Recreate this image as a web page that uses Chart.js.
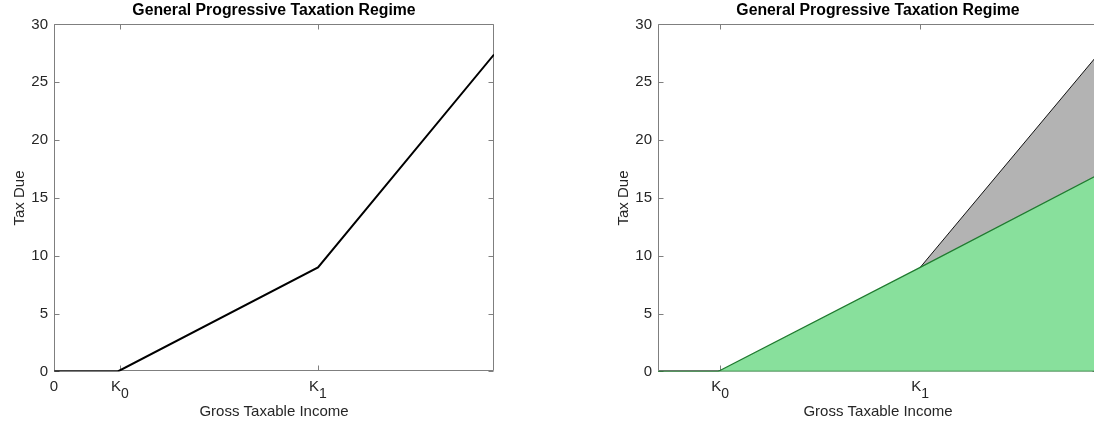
<!DOCTYPE html>
<html>
<head>
<meta charset="utf-8">
<script src="https://cdn.jsdelivr.net/npm/chart.js@4.4.0/dist/chart.umd.min.js"></script>
<style>
  html, body { margin: 0; padding: 0; background: #fff; overflow: hidden; width: 1094px; height: 421px; }
  canvas { position: absolute; top: 0; }
  #leftChart { left: 0; }
  #rightChart { left: 547px; }
</style>
</head>
<body>
<canvas id="leftChart" width="547" height="421"></canvas>
<canvas id="rightChart" width="560" height="421"></canvas>
<script>
//data

const chartTitle = 'General Progressive Taxation Regime';
const xTitle = 'Gross Taxable Income';
const yTitle = 'Tax Due';
const incomeLevels = [0, 0.145, 0.6, 1.0];
const taxDue = [0, 0, 9, 27.4];          // left: the progressive schedule
const baseTax = [0, 0, 9, 17.0];         // right: green part (first rate carried on)
const extraTax = [null, null, 9, 27.4];  // right: gray part above K1
const zeroLine = [0, 0, 0, 0];
const yTicks = [0, 5, 10, 15, 20, 25, 30];
const xTickValues = [0, 0.15, 0.6];
const xTickText = ['0', 'K', 'K'];
const xTickSubs = ['', '0', '1'];

const FONT = '"Liberation Sans", Arial, Helvetica, sans-serif';
const TEXT = '#262626';
const AXIS = '#7f7f7f';

function points(ys) {
  return incomeLevels.map((x, i) => ({x: x, y: ys[i]}));
}

// box, inward ticks and K-subscript labels, matlab style
const matlabAxes = {
  id: 'matlabAxes',
  beforeDatasetsDraw(chart) {
    const ctx = chart.ctx;
    const a = chart.chartArea;
    const xs = chart.scales.x, ys = chart.scales.y;
    const L = Math.round(a.left) + 0.5, R = Math.round(a.right) - 0.5;
    const T = Math.round(a.top) + 0.5, B = Math.round(a.bottom) - 0.5;
    ctx.save();
    ctx.strokeStyle = AXIS;
    ctx.lineWidth = 1;
    ctx.beginPath();
    ctx.moveTo(L, T); ctx.lineTo(R, T); ctx.lineTo(R, B); ctx.lineTo(L, B); ctx.closePath();
    yTicks.forEach(v => {
      const py = Math.round(ys.getPixelForValue(v)) + 0.5;
      ctx.moveTo(L, py); ctx.lineTo(L + 5, py);
      ctx.moveTo(R, py); ctx.lineTo(R - 5, py);
    });
    xTickValues.forEach(v => {
      if (v < xs.min || v > xs.max) return;
      const px = Math.round(xs.getPixelForValue(v)) + 0.5;
      ctx.moveTo(px, B); ctx.lineTo(px, B - 5);
      ctx.moveTo(px, T); ctx.lineTo(px, T + 5);
    });
    ctx.stroke();
    ctx.restore();
  },
  afterDraw(chart) {
    const ctx = chart.ctx;
    const a = chart.chartArea;
    const xs = chart.scales.x;
    ctx.save();
    ctx.fillStyle = TEXT;
    ctx.textAlign = 'left';
    ctx.textBaseline = 'alphabetic';
    xTickValues.forEach((v, i) => {
      if (v < xs.min || v > xs.max) return;
      const px = xs.getPixelForValue(v);
      ctx.font = '15px ' + FONT;
      const w1 = ctx.measureText(xTickText[i]).width;
      ctx.font = '14px ' + FONT;
      const w2 = xTickSubs[i] ? ctx.measureText(xTickSubs[i]).width : 0;
      const start = px - (w1 + w2) / 2;
      ctx.font = '15px ' + FONT;
      ctx.fillText(xTickText[i], start, a.bottom + 19.5);
      if (xTickSubs[i]) {
        ctx.font = '14px ' + FONT;
        ctx.fillText(xTickSubs[i], start + w1, a.bottom + 26.5);
      }
    });
    ctx.restore();
  }
};

function makeOptions(xMin, padLeft, padRight) {
  return {
    responsive: false,
    animation: false,
    layout: {padding: {left: padLeft, right: padRight, top: 0, bottom: 0}},
    plugins: {
      legend: {display: false},
      tooltip: {enabled: false},
      title: {
        display: true,
        text: chartTitle,
        fullSize: false,
        color: '#000',
        font: {family: FONT, size: 15.8, weight: 'bold'},
        padding: {top: 1.0, bottom: 4.5}
      }
    },
    scales: {
      x: {
        type: 'linear',
        min: xMin,
        max: 1,
        grid: {display: false},
        border: {display: false},
        ticks: {display: false},
        title: {display: true, text: xTitle, color: TEXT,
                font: {family: FONT, size: 15}, padding: {top: 0, bottom: 0}},
        afterFit: s => { s.height = 49.5; }
      },
      y: {
        min: 0,
        max: 30,
        grid: {display: false, drawTicks: false},
        border: {display: false},
        ticks: {stepSize: 5, padding: 6, color: TEXT, font: {family: FONT, size: 15}},
        title: {display: true, text: yTitle, color: TEXT,
                font: {family: FONT, size: 15}, padding: {top: 11, bottom: 0}},
        afterFit: s => { s.width = 54; }
      }
    }
  };
}

//left panel
new Chart(document.getElementById('leftChart'), {
  type: 'line',
  data: {
    datasets: [{
      data: points(taxDue),
      borderColor: '#000',
      borderWidth: 2,
      pointRadius: 0,
      tension: 0,
      fill: false
    }]
  },
  options: makeOptions(0, 0, 53),
  plugins: [matlabAxes]
});

//right panel
new Chart(document.getElementById('rightChart'), {
  type: 'line',
  data: {
    datasets: [{
      data: points(zeroLine),
      borderColor: '#1e6e2a',
      borderWidth: 1.5,
      pointRadius: 0,
      fill: false
    }, {
      data: points(baseTax),
      borderColor: '#1f7a2f',
      borderWidth: 1.2,
      backgroundColor: '#88e09c',
      pointRadius: 0,
      tension: 0,
      fill: 'origin'
    }, {
      data: points(extraTax),
      borderColor: '#111',
      borderWidth: 1,
      backgroundColor: '#b3b3b3',
      pointRadius: 0,
      tension: 0,
      fill: 1
    }]
  },
  options: makeOptions(0.01, 57, 9),
  plugins: [matlabAxes]
});
</script>
</body>
</html>
